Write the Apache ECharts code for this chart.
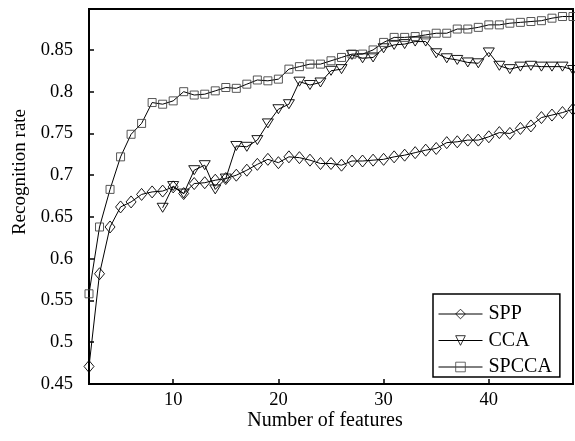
<!DOCTYPE html>
<html>
<head>
<meta charset="utf-8">
<script src="https://cdn.jsdelivr.net/npm/echarts@6/dist/echarts.min.js"></script>
<style>html,body{margin:0;padding:0;background:#fff}#c{width:575px;height:441px}</style>
</head>
<body>
<div id="c"></div>
<script>
const features = [2,3,4,5,6,7,8,9,10,11,12,13,14,15,16,17,18,19,20,21,22,23,24,25,26,27,28,29,30,31,32,33,34,35,36,37,38,39,40,41,42,43,44,45,46,47,48];
const spp = [0.471,0.582,0.638,0.662,0.668,0.677,0.680,0.681,0.686,0.678,0.690,0.691,0.694,0.696,0.700,0.706,0.713,0.719,0.715,0.722,0.721,0.718,0.714,0.714,0.712,0.717,0.717,0.718,0.719,0.722,0.724,0.727,0.730,0.732,0.739,0.740,0.742,0.742,0.746,0.751,0.750,0.756,0.759,0.769,0.772,0.775,0.779];
const cca = [null,null,null,null,null,null,null,0.661,0.687,0.678,0.706,0.712,0.683,0.696,0.735,0.734,0.742,0.762,0.779,0.785,0.812,0.808,0.811,0.825,0.827,0.844,0.840,0.841,0.852,0.856,0.857,0.860,0.860,0.846,0.840,0.838,0.835,0.834,0.847,0.831,0.827,0.830,0.831,0.830,0.830,0.830,0.826];
const spcca = [0.558,0.638,0.683,0.722,0.749,0.762,0.787,0.785,0.789,0.800,0.796,0.797,0.801,0.805,0.804,0.809,0.814,0.813,0.815,0.827,0.830,0.833,0.833,0.837,0.841,0.845,0.845,0.850,0.859,0.865,0.865,0.866,0.868,0.870,0.870,0.875,0.875,0.877,0.880,0.880,0.882,0.883,0.884,0.885,0.888,0.890,0.890];
const seriesNames = ['SPP','CCA','SPCCA'];
const xTitle = 'Number of features';
const yTitle = 'Recognition rate';

const FONT = 'Liberation Serif';
const pairs = arr => features.map((x,i) => [x, arr[i]]);
const chart = echarts.init(document.getElementById('c'), null, {renderer:'canvas'});
const mk = (name, data, symbol, size, rotate, border) => ({
  name, type:'line', data: pairs(data), symbol, symbolSize: size, symbolRotate: rotate,
  showAllSymbol: true, connectNulls: false,
  lineStyle: {color:'#000', width:1},
  itemStyle: {color:'rgba(255,255,255,0)', borderColor: border, borderWidth:0.9},
  emphasis: {disabled:true}
});
chart.setOption({
  animation:false,
  backgroundColor:'#fff',
  grid:{left:89, right:2, top:9, bottom:57, show:true, borderColor:'#000', borderWidth:2, backgroundColor:'rgba(0,0,0,0)'},
  xAxis:{type:'value', min:2, max:48, splitNumber:5,
    axisLine:{show:true, lineStyle:{color:'#000', width:2}},
    axisTick:{inside:true, length:5, lineStyle:{color:'#000', width:1.5}},
    axisLabel:{showMinLabel:false, showMaxLabel:false, color:'#000', fontFamily:FONT, fontSize:18.5, margin:7},
    splitLine:{show:false}},
  yAxis:{type:'value', min:0.45, max:0.899, interval:0.05,
    axisLine:{show:true, lineStyle:{color:'#000', width:2}},
    axisTick:{inside:true, length:5, lineStyle:{color:'#000', width:1.5}},
    axisLabel:{showMaxLabel:false, color:'#000', fontFamily:FONT, fontSize:18.5, margin:16,
      formatter: v => String(+v.toFixed(2))},
    splitLine:{show:false}},
  legend:{orient:'vertical', left:433, top:294, data:seriesNames,
    backgroundColor:'#fff', borderColor:'#000', borderWidth:1.5,
    padding:[10,8,0,5], itemGap:6.5, itemWidth:44, itemHeight:12,
    lineStyle:{width:1, color:'#000'},
    itemStyle:{borderWidth:0.8},
    textStyle:{color:'#000', fontFamily:FONT, fontSize:20, lineHeight:20, padding:[0,0,0,1]}},
  graphic:[
    {type:'text', x:325, y:421, style:{text:xTitle, font:'20px "Liberation Serif"', fill:'#000', align:'center', verticalAlign:'middle'}},
    {type:'text', x:20, y:172, rotation:Math.PI/2, style:{text:yTitle, font:'19px "Liberation Serif"', fill:'#000', align:'center', verticalAlign:'middle'}}
  ],
  series:[
    mk(seriesNames[0], spp, 'diamond', [10,12], 0, '#000'),
    mk(seriesNames[1], cca, 'triangle', [11,9], 180, '#000'),
    mk(seriesNames[2], spcca, 'rect', [8,8], 0, '#444')
  ]
});
</script>
</body>
</html>
